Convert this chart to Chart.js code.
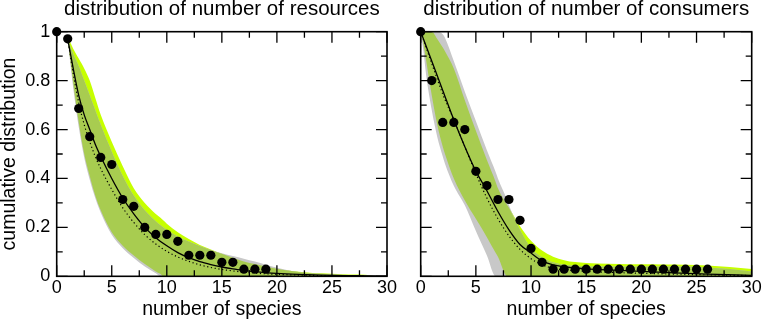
<!DOCTYPE html>
<html>
<head>
<meta charset="utf-8">
<script src="https://cdn.jsdelivr.net/npm/chart.js@4.4.1/dist/chart.umd.min.js"></script>
<style>
body { margin: 0; background: #fff; width: 763px; height: 326px; overflow: hidden; position: relative; }
canvas { position: absolute; top: 0; }
#left { left: 0; width: 420px; height: 326px; }
#right { left: 390px; width: 373px; height: 326px; }
</style>
</head>
<body>
<canvas id="left" width="420" height="326"></canvas>
<canvas id="right" width="373" height="326"></canvas>
<script>
// tick labels
const xTicks = [0, 5, 10, 15, 20, 25, 30];
const yTicks = [0, 0.2, 0.4, 0.6, 0.8, 1];

// --- resources (left) ---
const resDotX = [0, 1, 2, 3, 4, 5, 6, 7, 8, 9, 10, 11, 12, 13, 14, 15, 16, 17, 18, 19];
const resDotY = [1.0, 0.971, 0.686, 0.571, 0.486, 0.457, 0.314, 0.286, 0.2, 0.171, 0.171, 0.143, 0.086, 0.086, 0.086, 0.057, 0.057, 0.029, 0.029, 0.029];

const resSolidX = [1, 1.5, 2, 2.5, 3, 3.5, 4, 5, 6, 7, 8, 9, 10, 11, 12, 13, 14, 15, 16, 17, 18, 19, 20, 22, 24, 26, 28, 30];
const resSolidY = [0.97, 0.85, 0.74, 0.66, 0.6, 0.54, 0.49, 0.4, 0.32, 0.255, 0.2, 0.158, 0.125, 0.097, 0.076, 0.06, 0.048, 0.038, 0.03, 0.024, 0.019, 0.015, 0.012, 0.008, 0.005, 0.003, 0.002, 0.001];
const resDotLineX = [1, 1.5, 2, 2.5, 3, 3.5, 4, 5, 6, 7, 8, 9, 10, 11, 12, 13, 14, 15, 16, 17, 18, 20, 22, 25, 28];
const resDotLineY = [0.97, 0.83, 0.71, 0.62, 0.55, 0.49, 0.44, 0.355, 0.28, 0.22, 0.17, 0.132, 0.102, 0.079, 0.061, 0.047, 0.036, 0.028, 0.022, 0.017, 0.013, 0.008, 0.005, 0.002, 0.001];

const resBandX   = [1, 1.25, 1.5, 2, 2.5, 3, 3.5, 4, 5, 6, 7, 8, 9, 9.4, 9.7, 10, 11, 12, 13, 14, 15, 16, 17, 18, 19, 20, 21, 22, 23, 24, 25, 26, 27, 28, 29, 30];
const resGreyLo  = [0.97, 0.865, 0.77, 0.61, 0.485, 0.395, 0.32, 0.26, 0.17, 0.115, 0.075, 0.04, 0.012, 0, 0, 0, 0, 0, 0, 0, 0, 0, 0, 0, 0, 0, 0, 0, 0, 0, 0, 0, 0, 0, 0, 0];
const resLimeLo  = [0.97, 0.88, 0.79, 0.63, 0.5, 0.41, 0.33, 0.27, 0.18, 0.125, 0.085, 0.05, 0.02, 0.01, 0, 0, 0, 0, 0, 0, 0, 0, 0, 0, 0, 0, 0, 0, 0, 0, 0, 0, 0, 0, 0, 0];
const resGreyHi  = [0.97, 0.94, 0.91, 0.86, 0.8, 0.74, 0.68, 0.62, 0.51, 0.41, 0.33, 0.27, 0.225, 0.21, 0.2, 0.19, 0.163, 0.142, 0.124, 0.108, 0.094, 0.083, 0.072, 0.06, 0.047, 0.035, 0.025, 0.018, 0.013, 0.01, 0.008, 0.006, 0.005, 0.004, 0.003, 0.002];
const resLimeHi  = [0.97, 0.955, 0.93, 0.89, 0.85, 0.8, 0.73, 0.66, 0.55, 0.45, 0.36, 0.3, 0.255, 0.24, 0.228, 0.215, 0.18, 0.152, 0.128, 0.11, 0.092, 0.076, 0.061, 0.05, 0.04, 0.031, 0.024, 0.019, 0.015, 0.012, 0.01, 0.008, 0.007, 0.006, 0, 0];

// --- consumers (right) ---
const conDotX = [0, 1, 2, 3, 4, 5, 6, 7, 8, 9, 10, 11, 12, 13, 14, 15, 16, 17, 18, 19, 20, 21, 22, 23, 24, 25, 26];
const conDotY = [1, 0.8, 0.629, 0.629, 0.6, 0.429, 0.371, 0.314, 0.314, 0.229, 0.114, 0.057, 0.029, 0.029, 0.029, 0.029, 0.029, 0.029, 0.029, 0.029, 0.029, 0.029, 0.029, 0.029, 0.029, 0.029, 0.029];

const conSolidX = [0, 1, 2, 3, 4, 5, 6, 7, 8, 9, 10, 11, 12, 13, 14, 15, 17, 20, 23, 26, 30];
const conSolidY = [1, 0.88, 0.76, 0.64, 0.53, 0.43, 0.35, 0.265, 0.19, 0.13, 0.095, 0.063, 0.047, 0.039, 0.034, 0.03, 0.026, 0.02, 0.014, 0.009, 0.004];
const conDotLineX = [0, 1, 2, 3, 4, 5, 6, 7, 8, 9, 10, 11, 12, 13, 15, 18, 22, 26, 30];
const conDotLineY = [1, 0.87, 0.745, 0.64, 0.53, 0.42, 0.32, 0.235, 0.165, 0.11, 0.072, 0.047, 0.033, 0.026, 0.02, 0.015, 0.01, 0.006, 0.003];

const conBandX  = [0, 0.25, 0.5, 1, 1.5, 2, 2.2, 3, 4, 5, 6, 6.8, 7, 7.85, 8, 9, 10, 11, 12, 13, 14, 15, 16, 18, 20, 22, 24, 26, 28, 30];
const conGreyLo = [1, 0.92, 0.82, 0.68, 0.57, 0.49, 0.46, 0.37, 0.29, 0.185, 0.085, 0, 0, 0, 0, 0, 0, 0, 0, 0, 0, 0, 0, 0, 0, 0, 0, 0, 0, 0];
const conLimeLo = [1, 0.95, 0.88, 0.74, 0.62, 0.53, 0.5, 0.4, 0.31, 0.235, 0.16, 0.095, 0.08, 0, 0, 0, 0, 0, 0, 0, 0, 0, 0, 0, 0, 0, 0, 0, 0, 0];
const conGreyHi = [1, 1, 1, 1, 1, 0.99, 0.975, 0.88, 0.755, 0.635, 0.515, 0.425, 0.4, 0.31, 0.29, 0.19, 0.115, 0.078, 0.057, 0.047, 0.043, 0.041, 0.04, 0.04, 0.04, 0.04, 0.04, 0.036, 0.03, 0.02];
const conLimeHi = [1, 1, 1, 1, 0.97, 0.935, 0.92, 0.85, 0.72, 0.595, 0.475, 0.385, 0.36, 0.29, 0.28, 0.205, 0.145, 0.105, 0.08, 0.066, 0.058, 0.054, 0.052, 0.05, 0.049, 0.048, 0.047, 0.044, 0.038, 0.03];

const GREY = '#c8c8c8';
const LIME = '#c6ff00';
const GREEN = '#a8cc50';

Chart.defaults.font.family = "'Liberation Sans', Arial, sans-serif";
Chart.defaults.color = '#000';

function pts(xs, ys) {
  return xs.map((x, i) => ({x: x, y: ys[i]}));
}

// frame + inward ticks on all four sides
const frameTicks = {
  id: 'frameTicks',
  afterDatasetsDraw(chart) {
    const {ctx, chartArea: a, scales: {x, y}} = chart;
    ctx.save();
    ctx.strokeStyle = '#000';
    ctx.lineWidth = 1.3;
    ctx.beginPath();
    for (let i = 0; i < xTicks.length; i++) {
      const marks = [[xTicks[i], 11]];
      if (i < xTicks.length - 1) marks.push([(xTicks[i] + xTicks[i + 1]) / 2, 6]);
      marks.forEach(([v, len]) => {
        const px = x.getPixelForValue(v);
        ctx.moveTo(px, a.bottom); ctx.lineTo(px, a.bottom - len);
        ctx.moveTo(px, a.top); ctx.lineTo(px, a.top + len);
      });
    }
    for (let i = 0; i < yTicks.length; i++) {
      const marks = [[yTicks[i], 11]];
      if (i < yTicks.length - 1) marks.push([(yTicks[i] + yTicks[i + 1]) / 2, 6]);
      marks.forEach(([v, len]) => {
        const py = y.getPixelForValue(v);
        ctx.moveTo(a.left, py); ctx.lineTo(a.left + len, py);
        ctx.moveTo(a.right, py); ctx.lineTo(a.right - len, py);
      });
    }
    ctx.stroke();
    ctx.lineWidth = 1.6;
    ctx.strokeRect(a.left, a.top, a.right - a.left, a.bottom - a.top);
    ctx.restore();
  }
};

function makeChart(id, c) {
  const overHi = c.bandX.map((_, i) => Math.min(c.greyHi[i], c.limeHi[i]));
  const overLo = c.bandX.map((_, i) => Math.max(c.greyLo[i], c.limeLo[i]));
  const edge = {pointRadius: 0, borderWidth: 0, borderColor: 'rgba(0,0,0,0)', cubicInterpolationMode: 'monotone'};

  new Chart(document.getElementById(id), {
    type: 'line',
    data: {
      datasets: [
        {...edge, data: pts(c.bandX, c.limeHi), fill: '+1', backgroundColor: LIME, order: 8},
        {...edge, data: pts(c.bandX, c.limeLo), fill: false, order: 9},
        {...edge, data: pts(c.bandX, c.greyHi), fill: '+1', backgroundColor: GREY, order: 6},
        {...edge, data: pts(c.bandX, c.greyLo), fill: false, order: 7},
        {...edge, data: pts(c.bandX, overHi), fill: '+1', backgroundColor: GREEN, order: 4},
        {...edge, data: pts(c.bandX, overLo), fill: false, order: 5},
        {
          data: pts(c.dotLineX, c.dotLineY),
          borderColor: '#000', borderWidth: 1.2, borderDash: [1.2, 2.6],
          pointRadius: 0, fill: false, cubicInterpolationMode: 'monotone', order: 2
        },
        {
          data: pts(c.solidX, c.solidY),
          borderColor: '#000', borderWidth: 1.3,
          pointRadius: 0, fill: false, cubicInterpolationMode: 'monotone', order: 1
        },
        {
          data: pts(c.dotX, c.dotY),
          showLine: false, pointRadius: 4.6, pointBorderWidth: 0,
          pointBackgroundColor: '#000', clip: false, order: 0
        }
      ]
    },
    options: {
      responsive: false,
      animation: false,
      devicePixelRatio: 1,
      layout: {padding: {top: 0, left: 0, right: c.padRight, bottom: 0}},
      plugins: {
        legend: {display: false},
        tooltip: {enabled: false},
        title: {
          display: true, text: c.title, fullSize: false,
          font: {size: 20.5, weight: 'normal', lineHeight: 0.9}, color: '#000',
          padding: {top: 0.5, bottom: 12.75}
        }
      },
      scales: {
        x: {
          type: 'linear', min: 0, max: 30,
          grid: {display: false, drawTicks: false},
          border: {display: false},
          afterBuildTicks: s => { s.ticks = xTicks.map(v => ({value: v})); },
          ticks: {font: {size: 18}, color: '#000', padding: 0.9, maxRotation: 0, autoSkip: false, callback: v => String(v)},
          title: {display: true, text: 'number of species', font: {size: 19.5}, color: '#000', padding: {top: 0, bottom: 4.3}},
          afterFit: s => { s.height = 49.7; s.paddingLeft = 0; s.paddingRight = 0; }
        },
        y: {
          min: 0, max: 1,
          grid: {display: false, drawTicks: false},
          border: {display: false},
          afterBuildTicks: s => { s.ticks = yTicks.map(v => ({value: v})); },
          ticks: {display: c.showY, font: {size: 18}, color: '#000', padding: 6.5, callback: v => String(v)},
          title: {display: c.showY, text: 'cumulative distribution', font: {size: 19.5, lineHeight: 1}, color: '#000', padding: {top: 0.25, bottom: 0}},
          afterFit: s => { s.width = c.axisWidth; s.paddingTop = 0; s.paddingBottom = 0; }
        }
      }
    },
    plugins: [frameTicks]
  });
}

makeChart('left', {
  title: 'distribution of number of resources',
  showY: true, axisWidth: 56.7, padRight: 33,
  dotX: resDotX, dotY: resDotY,
  solidX: resSolidX, solidY: resSolidY,
  dotLineX: resDotLineX, dotLineY: resDotLineY,
  bandX: resBandX, greyLo: resGreyLo, greyHi: resGreyHi, limeLo: resLimeLo, limeHi: resLimeHi
});

makeChart('right', {
  title: 'distribution of number of consumers',
  showY: false, axisWidth: 30.7, padRight: 11.3,
  dotX: conDotX, dotY: conDotY,
  solidX: conSolidX, solidY: conSolidY,
  dotLineX: conDotLineX, dotLineY: conDotLineY,
  bandX: conBandX, greyLo: conGreyLo, greyHi: conGreyHi, limeLo: conLimeLo, limeHi: conLimeHi
});
</script>
</body>
</html>
